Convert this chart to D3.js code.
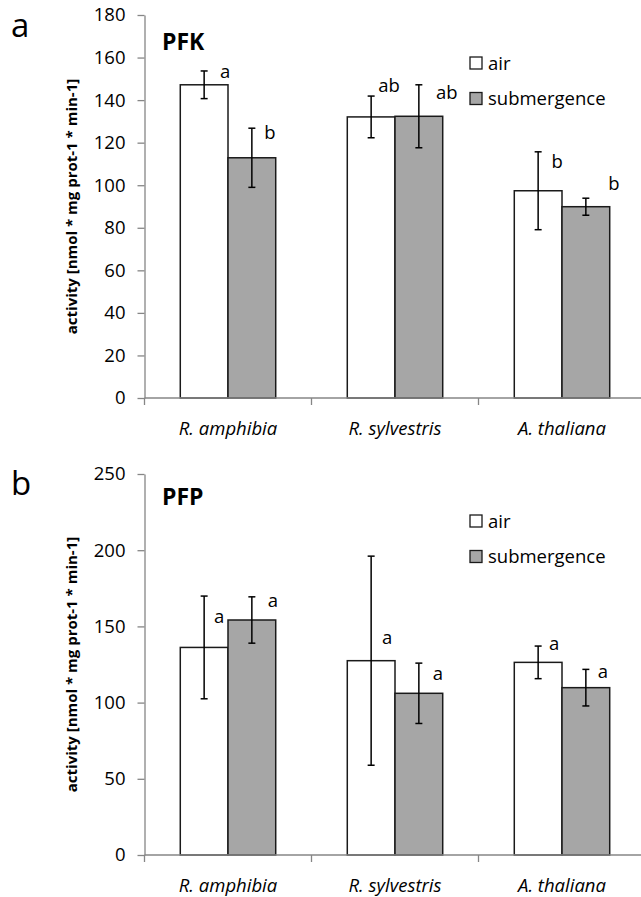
<!DOCTYPE html>
<html><head><meta charset="utf-8">
<script src="https://cdn.jsdelivr.net/npm/d3@7"></script>
<style>
html,body{margin:0;padding:0;background:#fff;}
svg{display:block;font-family:"Open Sans",sans-serif;}
</style></head>
<body><svg id="chart" width="641" height="897"></svg>
<script>
// ---- data ----
const categories = ["R. amphibia", "R. sylvestris", "A. thaliana"];
const seriesNames = ["air", "submergence"];

const pfkAir = [147.2, 132.1, 97.4];
const pfkAirSd = [6.5, 9.8, 18.3];
const pfkSub = [112.9, 132.4, 89.9];
const pfkSubSd = [13.9, 14.8, 4.0];
const pfkAirLetters = ["a", "ab", "b"];
const pfkSubLetters = ["b", "ab", "b"];
const pfkTicks = [0, 20, 40, 60, 80, 100, 120, 140, 160, 180];

const pfpAir = [136.2, 127.5, 126.4];
const pfpAirSd = [33.7, 68.6, 10.7];
const pfpSub = [154.2, 106.1, 109.8];
const pfpSubSd = [15.2, 19.8, 12.0];
const pfpAirLetters = ["a", "a", "a"];
const pfpSubLetters = ["a", "a", "a"];
const pfpTicks = [0, 50, 100, 150, 200, 250];

const yTitle = "activity [nmol * mg prot-1 * min-1]";

// ---- layout (pixel nudges for the manually placed letters) ----
const pfkNudge = { air: [[21, 7], [18, -4], [19, 16]], submergence: [[18, 11], [28, 14], [28, -8]] };
const pfpNudge = { air: [[15, 27], [16, 88], [16, 4]], submergence: [[21, 10], [19, 17], [17, 9]] };

const fills = { air: "#ffffff", submergence: "#a6a6a6" };
const svg = d3.select("#chart");
const axisColor = "#868686";
const fs = 18.5;

function panel(opt) {
  const g = svg.append("g");
  const x = d3.scaleBand().domain(categories).range([144.5, 645.5]).padding(0);
  const x1 = d3.scaleBand().domain(seriesNames).range([0, x.bandwidth()]).paddingInner(0).paddingOuter(0.75);
  const y = d3.scaleLinear().domain(opt.domain).range([opt.bottom, opt.top]);

  const rows = [];
  categories.forEach((c, i) => {
    rows.push({ c, s: "air", v: opt.air[i], sd: opt.airSd[i], lab: opt.airLetters[i], nudge: opt.nudge.air[i] });
    rows.push({ c, s: "submergence", v: opt.sub[i], sd: opt.subSd[i], lab: opt.subLetters[i], nudge: opt.nudge.submergence[i] });
  });

  // bars
  g.selectAll("rect.bar").data(rows).enter().append("rect")
    .attr("class", "bar")
    .attr("x", d => x(d.c) + x1(d.s))
    .attr("y", d => y(d.v))
    .attr("width", x1.bandwidth())
    .attr("height", d => y(0) - y(d.v))
    .attr("fill", d => fills[d.s])
    .attr("stroke", "#1a1a1a").attr("stroke-width", 1.5);

  // y axis
  const ya = d3.axisLeft(y).tickValues(opt.ticks).tickSize(7).tickPadding(12).tickSizeOuter(0);
  const yg = g.append("g").attr("transform", "translate(144.5,0)").call(ya);
  yg.select(".domain").attr("stroke", axisColor).attr("stroke-width", 1.3);
  yg.selectAll(".tick line").attr("stroke", axisColor).attr("stroke-width", 1.3);
  yg.selectAll(".tick text").attr("font-size", fs).attr("fill", "#000").attr("font-family", "Open Sans");

  // x axis line + boundary ticks
  const xg = g.append("g").attr("transform", `translate(0,${y(0)})`);
  xg.append("line").attr("x1", 144.5).attr("x2", 645.5).attr("stroke", axisColor).attr("stroke-width", 1.3);
  const bounds = categories.map(c => x(c));
  xg.selectAll("line.bt").data(bounds).enter().append("line").attr("class", "bt")
    .attr("x1", d => d).attr("x2", d => d).attr("y1", 0).attr("y2", 7)
    .attr("stroke", axisColor).attr("stroke-width", 1.3);
  xg.selectAll("text.cat").data(categories).enter().append("text").attr("class", "cat")
    .attr("x", d => x(d) + x.bandwidth() / 2).attr("y", 37)
    .attr("text-anchor", "middle").attr("font-size", fs).attr("font-style", "italic")
    .text(d => d);

  // error bars
  const eb = g.selectAll("g.eb").data(rows).enter().append("g").attr("class", "eb");
  const cx = d => x(d.c) + x1(d.s) + x1.bandwidth() / 2;
  eb.append("line").attr("x1", cx).attr("x2", cx)
    .attr("y1", d => y(d.v + d.sd)).attr("y2", d => y(d.v - d.sd));
  eb.append("line").attr("x1", d => cx(d) - 3.5).attr("x2", d => cx(d) + 3.5)
    .attr("y1", d => y(d.v + d.sd)).attr("y2", d => y(d.v + d.sd));
  eb.append("line").attr("x1", d => cx(d) - 3.5).attr("x2", d => cx(d) + 3.5)
    .attr("y1", d => y(d.v - d.sd)).attr("y2", d => y(d.v - d.sd));
  eb.selectAll("line").attr("stroke", "#000").attr("stroke-width", 1.5);

  // letters
  g.selectAll("text.lt").data(rows).enter().append("text").attr("class", "lt")
    .attr("x", d => cx(d) + d.nudge[0])
    .attr("y", d => y(d.v + d.sd) + d.nudge[1])
    .attr("text-anchor", "middle").attr("font-size", fs)
    .text(d => d.lab);

  // title
  g.append("text").attr("x", 162).attr("y", opt.titleY).attr("font-size", 23).attr("font-weight", "bold").text(opt.title);
  // panel letter
  g.append("text").attr("x", 11).attr("y", opt.letterY).attr("font-size", 33).text(opt.panelLetter);
  // y title
  g.append("text").attr("transform", `translate(77,${(opt.top + opt.bottom) / 2}) rotate(-90)`)
    .attr("text-anchor", "middle").attr("font-size", 15).attr("font-weight", "bold").text(yTitle);

  // legend
  const lg = g.selectAll("g.lg").data(seriesNames).enter().append("g").attr("class", "lg")
    .attr("transform", (d, i) => `translate(470,${opt.legendY + i * 35.5})`);
  lg.append("rect").attr("x", 0).attr("y", -6).attr("width", 12).attr("height", 12)
    .attr("fill", d => fills[d]).attr("stroke", "#1a1a1a").attr("stroke-width", 1.3);
  lg.append("text").attr("x", 18).attr("y", 6.5).attr("font-size", fs).text(d => d);
}

panel({ domain: [0, 180], top: 15, bottom: 398, ticks: pfkTicks,
  air: pfkAir, airSd: pfkAirSd, sub: pfkSub, subSd: pfkSubSd,
  airLetters: pfkAirLetters, subLetters: pfkSubLetters, nudge: pfkNudge,
  title: "PFK", titleY: 50, panelLetter: "a", letterY: 37, legendY: 63 });

panel({ domain: [0, 250], top: 474, bottom: 855, ticks: pfpTicks,
  air: pfpAir, airSd: pfpAirSd, sub: pfpSub, subSd: pfpSubSd,
  airLetters: pfpAirLetters, subLetters: pfpSubLetters, nudge: pfpNudge,
  title: "PFP", titleY: 505, panelLetter: "b", letterY: 495, legendY: 521 });
</script></body></html>
